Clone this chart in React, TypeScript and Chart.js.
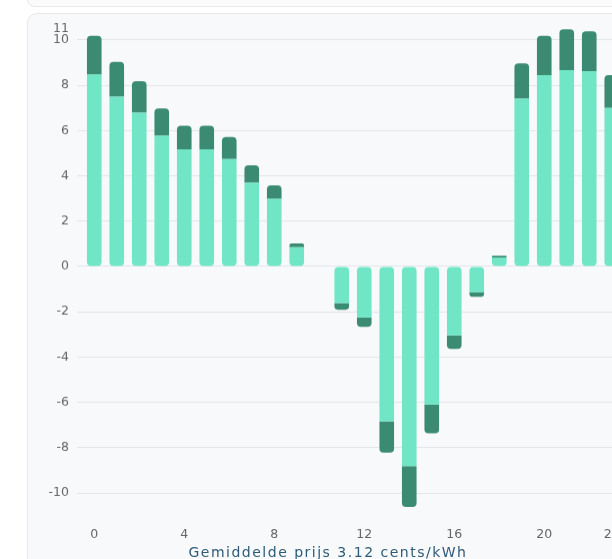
import React, { useEffect, useRef } from "react";
import { Chart, registerables } from "chart.js";

Chart.register(...registerables);

const hours = [
  "0", "1", "2", "3", "4", "5", "6", "7", "8", "9", "10", "11",
  "12", "13", "14", "15", "16", "17", "18", "19", "20", "21", "22", "23",
];
const shownHourLabels = ["0", "4", "8", "12", "16", "20", "23"];

// price excluding VAT (light) and VAT part (dark), cents/kWh
const priceExVat = [
  8.47, 7.49, 6.78, 5.77, 5.17, 5.17, 4.74, 3.7, 2.98, 0.85, 0, -1.62,
  -2.25, -6.83, -8.81, -6.09, -3.04, -1.13, 0.4, 7.41, 8.44, 8.66, 8.62, 7.0,
];
const priceVat = [
  1.71, 1.54, 1.4, 1.2, 1.04, 1.04, 0.97, 0.76, 0.6, 0.16, 0, -0.29,
  -0.42, -1.39, -1.81, -1.28, -0.6, -0.21, 0.07, 1.55, 1.74, 1.81, 1.76, 1.44,
];

const yTickValues = [-10, -8, -6, -4, -2, 0, 2, 4, 6, 8, 10, 10.5];
const yTickLabels = ["-10", "-8", "-6", "-4", "-2", "0", "2", "4", "6", "8", "10", "11"];

const titleText = "Gemiddelde prijs 3.12 cents/kWh";

const LIGHT = "#70e6c7";
const DARK = "#3b8b73";
const R = 4;
const TICK_FONT = { family: "DejaVu Sans", size: 12.5 };

export default function App() {
  const ref = useRef<HTMLCanvasElement | null>(null);

  useEffect(() => {
    if (!ref.current) return;
    const chart = new Chart(ref.current, {
      type: "bar",
      data: {
        labels: hours,
        datasets: [
          {
            data: priceExVat,
            backgroundColor: LIGHT,
            borderSkipped: false,
            borderRadius: (ctx: any) =>
              (ctx.raw as number) >= 0
                ? { bottomLeft: R, bottomRight: R, topLeft: 0, topRight: 0 }
                : { topLeft: R, topRight: R, bottomLeft: 0, bottomRight: 0 },
            barPercentage: 0.65,
            categoryPercentage: 1,
          },
          {
            data: priceVat,
            backgroundColor: DARK,
            borderSkipped: false,
            borderRadius: (ctx: any) =>
              (ctx.raw as number) >= 0
                ? { topLeft: R, topRight: R, bottomLeft: 0, bottomRight: 0 }
                : { bottomLeft: R, bottomRight: R, topLeft: 0, topRight: 0 },
            barPercentage: 0.65,
            categoryPercentage: 1,
          },
        ],
      },
      options: {
        animation: false,
        responsive: true,
        maintainAspectRatio: false,
        layout: { padding: { top: 13.6, left: 0, right: 0, bottom: 0 } },
        plugins: {
          legend: { display: false },
          tooltip: { enabled: false },
          title: { display: false },
        },
        scales: {
          x: {
            stacked: true,
            grid: { display: false, tickLength: 12 },
            border: { display: false },
            afterFit: (s: any) => {
              s.height = 30;
            },
            ticks: {
              autoSkip: false,
              maxRotation: 0,
              padding: 0,
              color: "#666",
              font: TICK_FONT,
              callback: function (this: any, _v: any, i: number) {
                const l = hours[i];
                return shownHourLabels.includes(l) ? l : "";
              },
            },
          },
          y: {
            stacked: true,
            min: -11,
            max: 10.5,
            afterFit: (s: any) => {
              s.width = 50;
            },
            afterBuildTicks: (s: any) => {
              s.ticks = yTickValues.map((v) => ({ value: v }));
            },
            border: { display: false },
            grid: {
              color: (ctx: any) =>
                ctx.tick && ctx.tick.value === 10.5 ? "rgba(0,0,0,0)" : "#e3e5e9",
              lineWidth: 1,
              drawTicks: true,
              tickLength: 6,
            },
            ticks: {
              padding: 8,
              color: "#666",
              font: TICK_FONT,
              callback: (value: any) => {
                const idx = yTickValues.indexOf(Number(value));
                return idx >= 0 ? yTickLabels[idx] : "";
              },
            },
          },
        },
      },
    });
    return () => chart.destroy();
  }, []);

  return (
    <div
      style={{
        position: "fixed",
        left: 0,
        top: 0,
        width: 612,
        height: 559,
        overflow: "hidden",
        background: "#ffffff",
      }}
    >
      <div
        style={{
          position: "absolute",
          left: 27,
          top: -40,
          width: 640,
          height: 45,
          border: "1px solid #e6e7ea",
          borderRadius: 8,
          background: "#fbfbfc",
        }}
      />
      <div
        style={{
          position: "absolute",
          left: 27,
          top: 13,
          width: 640,
          height: 600,
          border: "1px solid #e6e7ea",
          borderRadius: 10,
          background: "#f8f9fb",
        }}
      />
      <div
        style={{
          position: "absolute",
          left: 33,
          top: 13,
          width: 590,
          height: 531.7,
        }}
      >
        <canvas ref={ref} />
      </div>
      <div
        style={{
          position: "absolute",
          left: 0,
          width: 656,
          top: 543,
          textAlign: "center",
          fontFamily: "DejaVu Sans",
          fontSize: 14,
          letterSpacing: "1.5px",
          lineHeight: "18px",
          color: "#2e5b78",
          whiteSpace: "nowrap",
        }}
      >
        {titleText}
      </div>
    </div>
  );
}
